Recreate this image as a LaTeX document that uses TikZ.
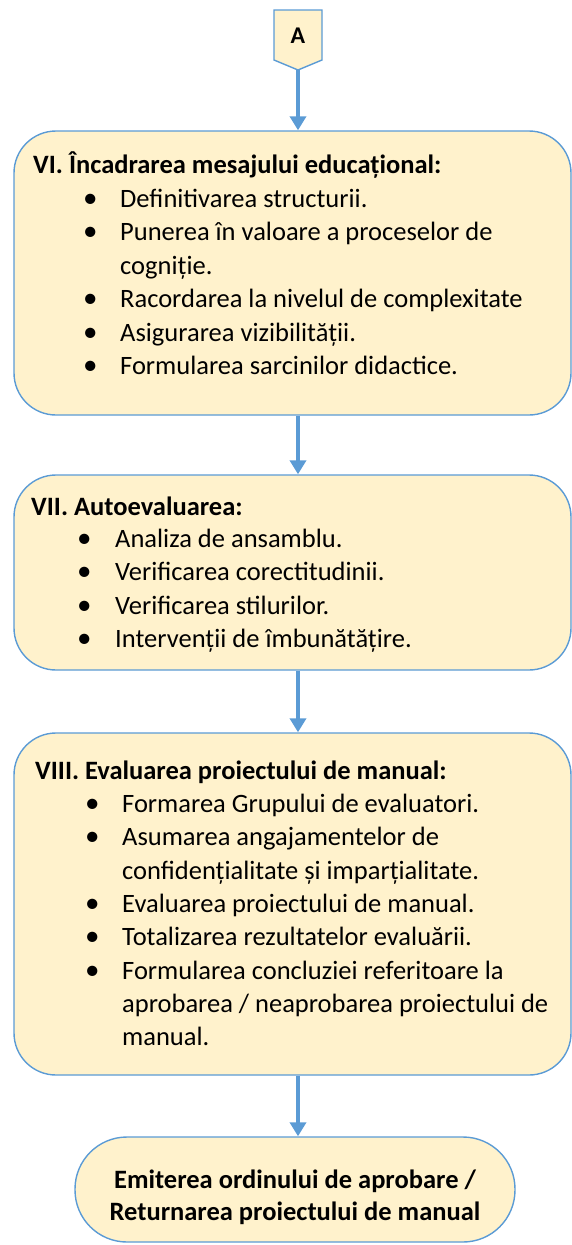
\documentclass[tikz,border=0pt]{standalone}
\usepackage{fontspec}
\setmainfont{Carlito}
\usetikzlibrary{arrows.meta, positioning, calc}
\definecolor{boxfill}{HTML}{FFF2CC}
\definecolor{boxline}{HTML}{5B9BD5}

\begin{document}
\begin{tikzpicture}[x=1pt, y=-1pt,
    font=\fontsize{26.5}{30}\selectfont,
    pas/.style={draw=boxline, line width=1.4pt, fill=boxfill, rounded corners=42pt,
                inner sep=0pt},
    titlu/.style={anchor=base west, inner sep=0pt, font=\fontsize{26.5}{30}\selectfont\bfseries},
    rand/.style={anchor=base west, inner sep=0pt},
    bulina/.style={rand, font=\fontsize{29}{30}\selectfont},
    flux/.style={draw=boxline, line width=4.5pt, -{Triangle[width=16pt, length=14pt]}}
  ]
    \useasboundingbox (0,0) rectangle (572,1245);

    % conector A
    \draw[boxline, line width=1.4pt, fill=boxfill]
      (274,10) -- (322,10) -- (322,60) -- (298,70) -- (274,60) -- cycle;
    \node[font=\fontsize{24}{26}\selectfont\bfseries] (A) at (298,36) {A};
    \coordinate (Atip) at (298,70);

    % casete
    \node[pas, minimum width=557pt, minimum height=284pt] (b6) at (292.5,273) {};
    \node[pas, minimum width=557pt, minimum height=195pt] (b7) at (292.5,572.5) {};
    \node[pas, minimum width=557pt, minimum height=342pt] (b8) at (292.5,904) {};
    \node[pas, rounded corners=52pt, minimum width=440pt, minimum height=105pt] (fin) at (295,1189.5) {};

    % VI
    \node[titlu] (t6) at (33,173) {VI. Încadrarea mesajului educațional:};
    \foreach \y/\b/\t [count=\i] in {207/1/Definitivarea structurii.,
                                     240.5/1/Punerea în valoare a proceselor de,
                                     274/0/cogniție.,
                                     307.5/1/Racordarea la nivelul de complexitate,
                                     341/1/Asigurarea vizibilității.,
                                     374.5/1/Formularea sarcinilor didactice.} {
      \ifnum\b=1 \node[bulina] (p6-\i) at (83,\y) {•}; \fi
      \node[rand] (r6-\i) at (120,\y) {\t};
    }

    % VII
    \node[titlu] (t7) at (31,515) {VII. Autoevaluarea:};
    \foreach \y/\t [count=\i] in {547.5/Analiza de ansamblu.,
                                  580.8/Verificarea corectitudinii.,
                                  614.1/Verificarea stilurilor.,
                                  647.4/Intervenții de îmbunătățire.} {
      \node[bulina] (p7-\i) at (77,\y) {•};
      \node[rand] (r7-\i) at (115,\y) {\t};
    }

    % VIII
    \node[titlu] (t8) at (35,779) {VIII. Evaluarea proiectului de manual:};
    \foreach \y/\b/\t [count=\i] in {812.5/1/Formarea Grupului de evaluatori.,
                                     845.8/1/Asumarea angajamentelor de,
                                     879.1/0/confidențialitate și imparțialitate.,
                                     912.4/1/Evaluarea proiectului de manual.,
                                     945.7/1/Totalizarea rezultatelor evaluării.,
                                     979/1/Formularea concluziei referitoare la,
                                     1012.3/0/{aprobarea / neaprobarea proiectului de},
                                     1045.6/0/manual.} {
      \ifnum\b=1 \node[bulina] (p8-\i) at (85,\y) {•}; \fi
      \node[rand] (r8-\i) at (122,\y) {\t};
    }

    % final
    \node[align=center, font=\fontsize{26.5}{32}\selectfont\bfseries] (fin-t) at (295,1197)
      {Emiterea ordinului de aprobare /\\Returnarea proiectului de manual};

    % sageti
    \draw[flux] (Atip) -- (Atip |- b6.north);
    \draw[flux] (b6.south -| Atip) -- (b7.north -| Atip);
    \draw[flux] (b7.south -| Atip) -- (b8.north -| Atip);
    \draw[flux] (b8.south -| Atip) -- (fin.north -| Atip);
\end{tikzpicture}
\end{document}
